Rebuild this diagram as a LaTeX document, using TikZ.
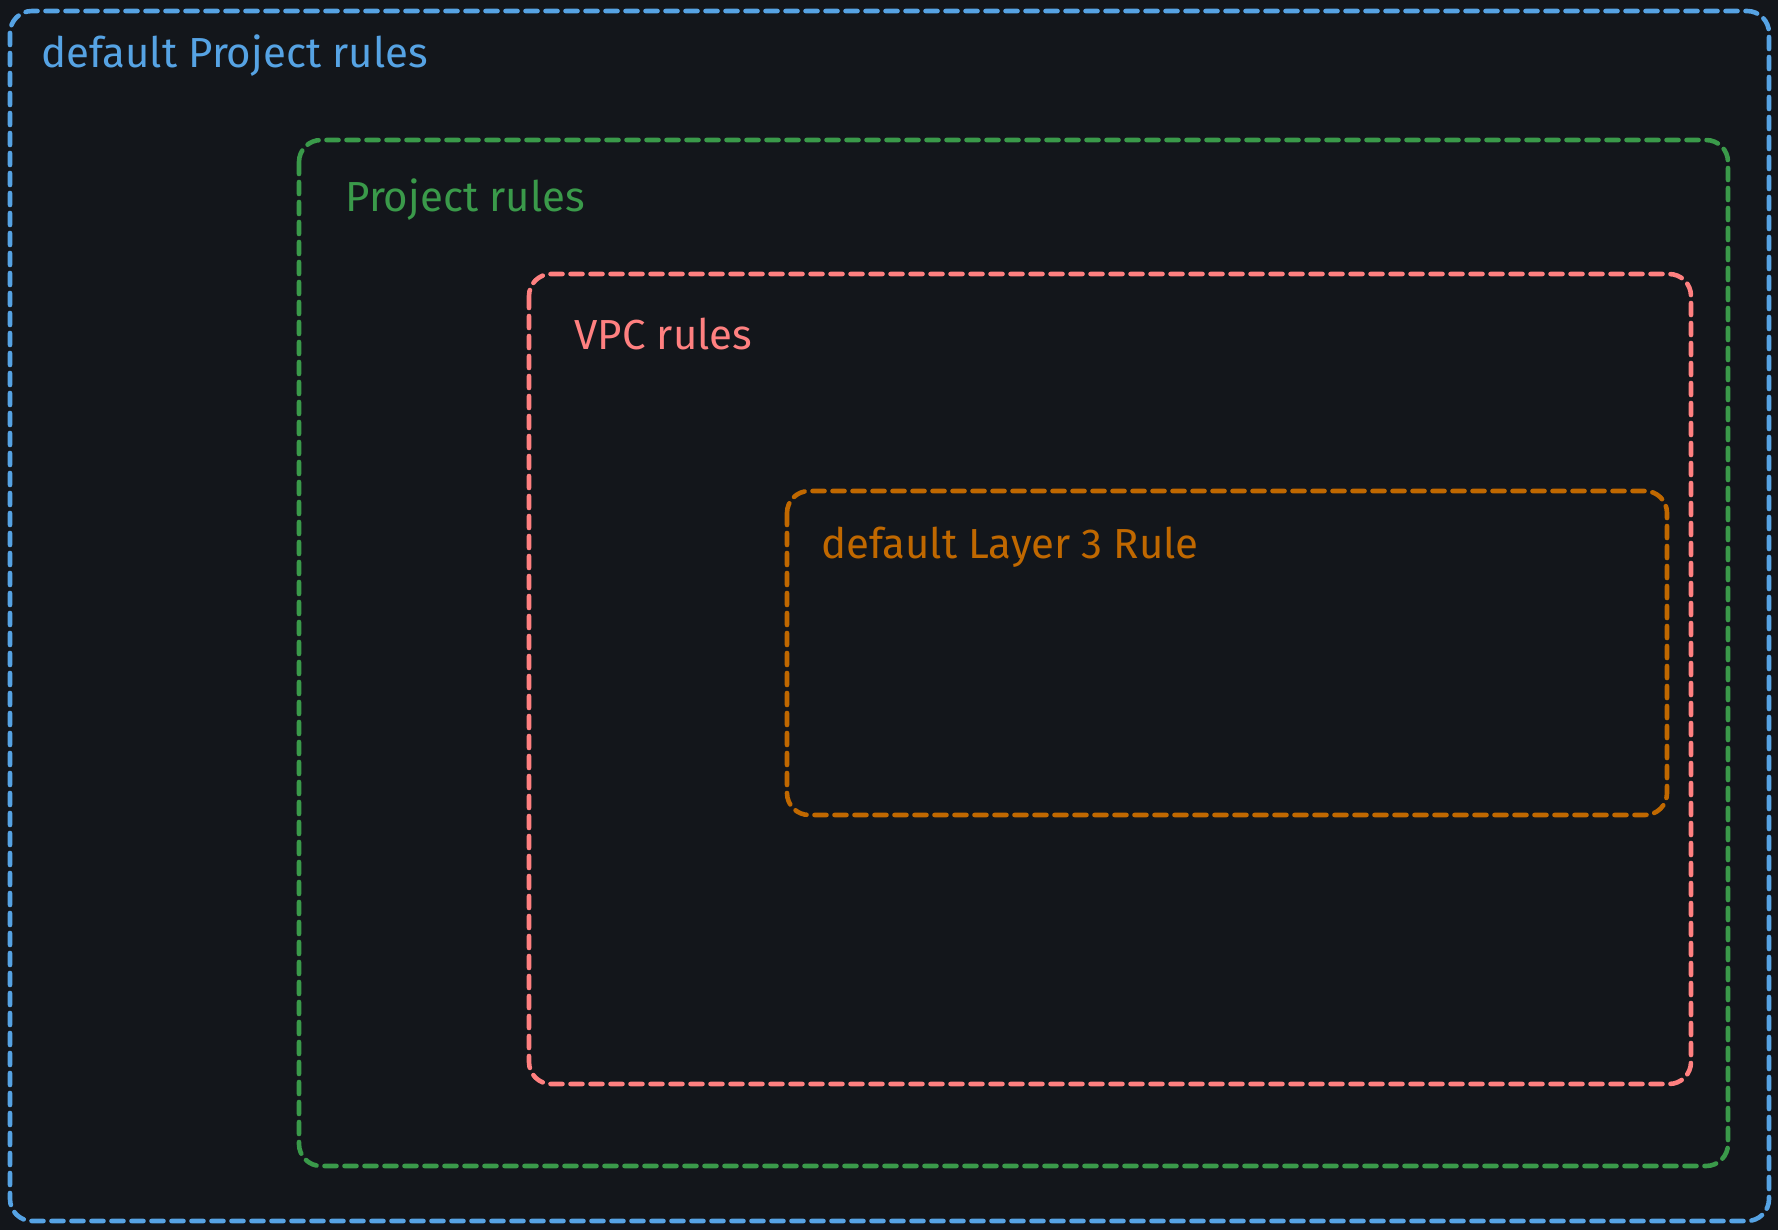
\documentclass[tikz,border=0pt]{standalone}
\usepackage{fontspec}
\setmainfont{Fira Sans}
\definecolor{bgc}{HTML}{13161B}
\definecolor{cblue}{HTML}{56A3E4}
\definecolor{cgreen}{HTML}{3A9A4A}
\definecolor{cred}{HTML}{FF8080}
\definecolor{corange}{HTML}{C06800}
\begin{document}
\begin{tikzpicture}[x=0.5pt,y=-0.5pt,
  zone/.style={line width=2.3pt,dash pattern=on 6pt off 4pt,line cap=round,rounded corners=11pt},
  zlabel/.style={anchor=base west,inner sep=0pt,font=\fontsize{21}{24}\selectfont}]
\fill[bgc] (0,0) rectangle (1778,1230);
\useasboundingbox (0,0) rectangle (1778,1230);
\draw[zone,cblue] (10,11) rectangle (1769,1221);
\draw[zone,cgreen] (299,140) rectangle (1728,1166);
\draw[zone,cred] (529,274) rectangle (1691,1084);
\draw[zone,corange] (787,491) rectangle (1667,815);
\node[zlabel,text=cblue] (t1) at (41,68) {default Project rules};
\node[zlabel,text=cgreen] (t2) at (345,212) {Project rules};
\node[zlabel,text=cred] (t3) at (574,350) {VPC rules};
\node[zlabel,text=corange] (t4) at (821,558) {default Layer 3 Rule};
\end{tikzpicture}
\end{document}
